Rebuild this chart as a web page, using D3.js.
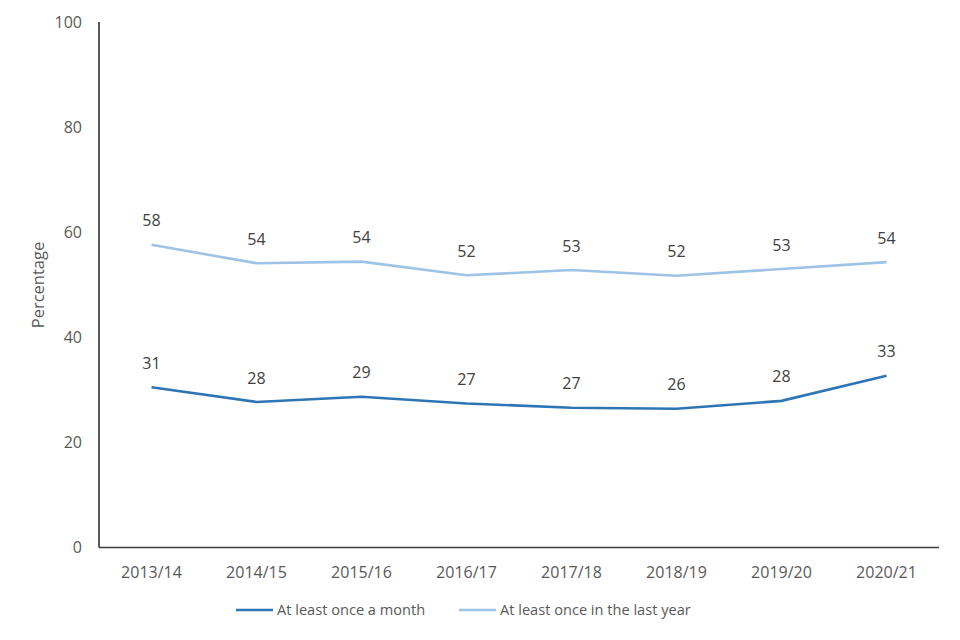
<!DOCTYPE html>
<html><head><meta charset="utf-8">
<script src="https://cdn.jsdelivr.net/npm/d3@7"></script>
<style>body{margin:0;background:#fff;} text{font-family:"Open Sans",sans-serif;}</style>
</head><body>
<svg id="c" width="960" height="640"></svg>
<script>
const categories = ["2013/14","2014/15","2015/16","2016/17","2017/18","2018/19","2019/20","2020/21"];
const monthly = [30.5,27.7,28.7,27.4,26.6,26.4,27.9,32.7];
const yearly = [57.6,54.1,54.4,51.8,52.8,51.7,53.0,54.3];
const seriesNames = ["At least once a month","At least once in the last year"];
const yTicks = [0,20,40,60,80,100];

(function(){
const svg = d3.select("#c");
const pLeft = 99, pRight = 939, pTop = 22, pBottom = 547.5;
const x = d3.scaleBand().domain(categories).range([pLeft,pRight]);
const y = d3.scaleLinear().domain([0,100]).range([pBottom,pTop]);
const colors = ["#2E75B6","#9DC3E6"];

// y axis
svg.append("line").attr("x1",pLeft).attr("x2",pLeft).attr("y1",pTop).attr("y2",pBottom)
  .attr("stroke","#000").attr("stroke-width",1.3);
svg.selectAll(".yt").data(yTicks).enter().append("text")
  .attr("x",82).attr("y",d=>y(d)).attr("dy","0.35em").attr("text-anchor","end")
  .attr("font-size",16).attr("fill","#595959").text(d=>d);
// x axis
svg.append("line").attr("x1",pLeft).attr("x2",pRight).attr("y1",pBottom).attr("y2",pBottom)
  .attr("stroke","#404040").attr("stroke-width",1.6);
svg.selectAll(".xt").data(categories).enter().append("text")
  .attr("x",d=>x(d)+x.bandwidth()/2).attr("y",572).attr("dy","0.35em").attr("text-anchor","middle")
  .attr("font-size",16).attr("fill","#595959").text(d=>d);
// y title
svg.append("text").attr("transform","translate(38,285) rotate(-90)").attr("text-anchor","middle")
  .attr("dy","0.35em").attr("font-size",16.5).attr("fill","#595959").text("Percentage");

const line = d3.line().x((d,i)=>x(categories[i])+x.bandwidth()/2).y(d=>y(d));
[monthly,yearly].forEach((s,k)=>{
  svg.append("path").attr("d",line(s)).attr("fill","none").attr("stroke",colors[k]).attr("stroke-width",2.6);
  svg.selectAll(".lb"+k).data(s).enter().append("text")
    .attr("x",(d,i)=>x(categories[i])+x.bandwidth()/2).attr("y",d=>y(d)-24).attr("dy","0.35em")
    .attr("text-anchor","middle").attr("font-size",16).attr("fill","#404040").text(d=>Math.round(d));
});

// legend
const leg = [{x1:236,x2:273,tx:277},{x1:459,x2:496,tx:500}];
leg.forEach((l,k)=>{
  svg.append("line").attr("x1",l.x1).attr("x2",l.x2).attr("y1",610).attr("y2",610)
    .attr("stroke",colors[k]).attr("stroke-width",2.6);
  svg.append("text").attr("x",l.tx).attr("y",610).attr("dy","0.35em").attr("font-size",14.6)
    .attr("fill","#595959").text(seriesNames[k]);
});
})();
</script>
</body></html>
